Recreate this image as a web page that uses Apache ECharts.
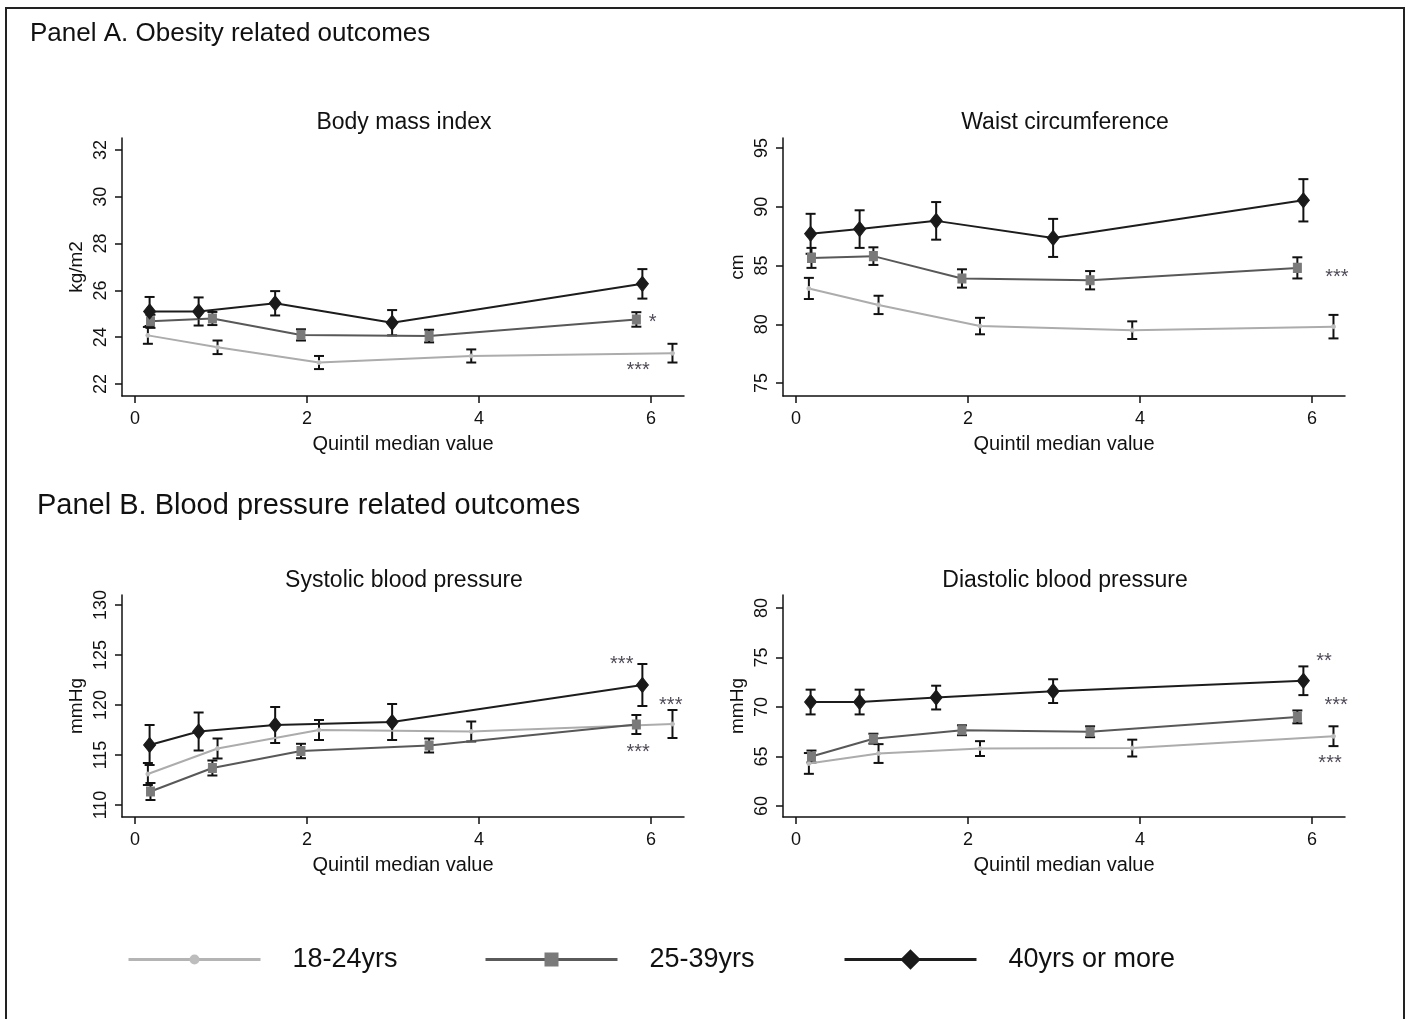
<!DOCTYPE html>
<html><head><meta charset="utf-8">
<script src="https://cdn.jsdelivr.net/npm/echarts@6/dist/echarts.min.js"></script>
<style>html,body{margin:0;padding:0;background:#fff}#c{width:1408px;height:1019px}</style>
</head><body><div id="c"></div><script>
// ---------- data ----------
const groups = ['18-24yrs', '25-39yrs', '40yrs or more'];
const x1824 = [0.15, 0.96, 2.14, 3.91, 6.25];
const x2539 = [0.18, 0.90, 1.93, 3.42, 5.83];
const x40   = [0.17, 0.74, 1.63, 2.99, 5.90];
const xTicks = [0, 2, 4, 6];

const panelTitles = ['Body mass index', 'Waist circumference', 'Systolic blood pressure', 'Diastolic blood pressure'];
const yUnits = ['kg/m2', 'cm', 'mmHg', 'mmHg'];
const xName = 'Quintil median value';

const bmiTicks = [22, 24, 26, 28, 30, 32];
const bmi1824 = [24.08, 23.57, 22.92, 23.20, 23.32];
const bmi1824Ci = [0.36, 0.29, 0.28, 0.28, 0.40];
const bmi2539 = [24.68, 24.80, 24.10, 24.05, 24.76];
const bmi2539Ci = [0.28, 0.28, 0.24, 0.27, 0.31];
const bmi40 = [25.10, 25.10, 25.45, 24.62, 26.28];
const bmi40Ci = [0.62, 0.60, 0.52, 0.54, 0.63];
const bmiStars = [[6.02, 24.82, '*'], [5.85, 22.77, '***']];

const waistTicks = [75, 80, 85, 90, 95];
const waist1824 = [83.05, 81.65, 79.85, 79.50, 79.80];
const waist1824Ci = [0.90, 0.78, 0.70, 0.75, 1.00];
const waist2539 = [85.65, 85.80, 83.90, 83.75, 84.80];
const waist2539Ci = [0.85, 0.75, 0.78, 0.78, 0.90];
const waist40 = [87.70, 88.10, 88.80, 87.35, 90.55];
const waist40Ci = [1.70, 1.60, 1.60, 1.62, 1.80];
const waistStars = [[6.29, 84.36, '***'], [6.60, 79.68, '***']];

const sbpTicks = [110, 115, 120, 125, 130];
const sbp1824 = [113.1, 115.65, 117.5, 117.35, 118.1];
const sbp1824Ci = [1.1, 1.0, 1.0, 1.0, 1.4];
const sbp2539 = [111.35, 113.7, 115.4, 115.95, 118.05];
const sbp2539Ci = [0.85, 0.75, 0.72, 0.70, 0.95];
const sbp40 = [116.0, 117.35, 118.0, 118.3, 122.0];
const sbp40Ci = [2.0, 1.9, 1.8, 1.8, 2.1];
const sbpStars = [[5.66, 124.5, '***'], [6.23, 120.4, '***'], [5.85, 115.7, '***']];

const dbpTicks = [60, 65, 70, 75, 80];
const dbp1824 = [64.3, 65.3, 65.8, 65.85, 67.05];
const dbp1824Ci = [1.05, 0.95, 0.75, 0.85, 1.0];
const dbp2539 = [65.0, 66.8, 67.65, 67.5, 69.0];
const dbp2539Ci = [0.6, 0.5, 0.5, 0.55, 0.65];
const dbp40 = [70.5, 70.5, 70.95, 71.6, 72.65];
const dbp40Ci = [1.25, 1.25, 1.2, 1.2, 1.45];
const dbpStars = [[6.14, 74.95, '**'], [6.28, 70.6, '***'], [6.21, 64.65, '***']];

// ---------- layout / style ----------
const FONT = '"Liberation Sans", Arial, sans-serif';
const INK = '#111';
const grids = [
  {left: 122, top: 138, width: 562, height: 258},
  {left: 783, top: 138, width: 562, height: 258},
  {left: 122, top: 595, width: 562, height: 222},
  {left: 783, top: 595, width: 562, height: 222}
];
const yRanges = [[21.49, 32.51], [73.9, 95.85], [108.8, 131.0], [58.89, 81.31]];
const xRange = [-0.151, 6.384];
const panels = [
  {ticks: bmiTicks, ys: [bmi1824, bmi2539, bmi40], cis: [bmi1824Ci, bmi2539Ci, bmi40Ci], stars: bmiStars},
  {ticks: waistTicks, ys: [waist1824, waist2539, waist40], cis: [waist1824Ci, waist2539Ci, waist40Ci], stars: waistStars},
  {ticks: sbpTicks, ys: [sbp1824, sbp2539, sbp40], cis: [sbp1824Ci, sbp2539Ci, sbp40Ci], stars: sbpStars},
  {ticks: dbpTicks, ys: [dbp1824, dbp2539, dbp40], cis: [dbp1824Ci, dbp2539Ci, dbp40Ci], stars: dbpStars}
];
const xsByGroup = [x1824, x2539, x40];
const groupStyle = [
  {line: '#acacac', width: 2, symbol: 'circle', size: 4, fill: '#bdbdbd', border: '#bdbdbd'},
  {line: '#585858', width: 2, symbol: 'rect', size: [8, 9], fill: '#7a7a7a', border: '#7a7a7a'},
  {line: '#1c1c1c', width: 2, symbol: 'diamond', size: [12, 15], fill: '#1a1a1a', border: '#1a1a1a'}
];

const xAxes = [], yAxes = [], series = [];
panels.forEach((p, i) => {
  xAxes.push({
    gridIndex: i, type: 'value', min: xRange[0], max: xRange[1],
    axisLine: {show: true, onZero: false, lineStyle: {color: INK, width: 1.5}},
    axisTick: {show: true, length: 7, customValues: xTicks, lineStyle: {color: INK, width: 1.5}},
    axisLabel: {customValues: xTicks, margin: 14, fontSize: 18, color: INK, fontFamily: FONT},
    splitLine: {show: false},
    name: xName, nameLocation: 'middle', nameGap: 38,
    nameTextStyle: {fontSize: 20, color: INK, fontFamily: FONT}
  });
  yAxes.push({
    gridIndex: i, type: 'value', min: yRanges[i][0], max: yRanges[i][1],
    axisLine: {show: true, onZero: false, lineStyle: {color: INK, width: 1.5}},
    axisTick: {show: true, length: 7, customValues: p.ticks, lineStyle: {color: INK, width: 1.5}},
    axisLabel: {customValues: p.ticks, rotate: 90, margin: 12, fontSize: 18, color: INK, fontFamily: FONT},
    splitLine: {show: false},
    name: yUnits[i], nameLocation: 'middle', nameGap: 36, nameRotate: 90,
    nameTextStyle: {fontSize: 19, color: INK, fontFamily: FONT}
  });
  for (let g = 0; g < 3; g++) {
    const xs = xsByGroup[g], ys = p.ys[g], ci = p.cis[g], st = groupStyle[g];
    series.push({
      type: 'custom', name: groups[g] + ' CI', xAxisIndex: i, yAxisIndex: i, z: 3, silent: true,
      data: xs.map((x, k) => [x, ys[k] - ci[k], ys[k] + ci[k]]),
      encode: {x: 0, y: [1, 2]},
      renderItem: (params, api) => {
        const lo = api.coord([api.value(0), api.value(1)]);
        const hi = api.coord([api.value(0), api.value(2)]);
        const w = 5, s = {stroke: '#111', lineWidth: 2};
        return {type: 'group', children: [
          {type: 'line', shape: {x1: lo[0], y1: lo[1], x2: hi[0], y2: hi[1]}, style: s},
          {type: 'line', shape: {x1: lo[0] - w, y1: lo[1], x2: lo[0] + w, y2: lo[1]}, style: s},
          {type: 'line', shape: {x1: hi[0] - w, y1: hi[1], x2: hi[0] + w, y2: hi[1]}, style: s}
        ]};
      }
    });
    series.push({
      type: 'line', name: groups[g], xAxisIndex: i, yAxisIndex: i, z: 4 + g,
      data: xs.map((x, k) => [x, ys[k]]),
      symbol: st.symbol, symbolSize: st.size, showSymbol: true,
      lineStyle: {color: st.line, width: st.width},
      itemStyle: {color: st.fill, borderColor: st.border, borderWidth: 1},
      emphasis: {disabled: true}
    });
  }
  series.push({
    type: 'scatter', name: 'sig' + i, xAxisIndex: i, yAxisIndex: i, z: 8,
    data: p.stars, symbolSize: 1, itemStyle: {color: 'rgba(0,0,0,0)'},
    label: {show: true, position: 'inside', formatter: q => q.data[2], fontSize: 20,
      color: '#1e1828', fontFamily: FONT, offset: [0, 4]}
  });
});

const legendPos = [127, 484, 843];
const legendH = [10, 15, 22];
const legendLine = ['#b4b4b4', '#5a5a5a', '#1e1e1e'];
const legends = groups.map((name, g) => ({
  data: [name], left: legendPos[g], top: 946, orient: 'horizontal', padding: 0,
  itemWidth: 132, itemHeight: legendH[g], selectedMode: false,
  lineStyle: {width: 3, color: legendLine[g]},
  textStyle: {fontSize: 27, color: INK, fontFamily: FONT, padding: [0, 0, 0, 27]}
}));

const graphics = [
  {type: 'rect', shape: {x: 6, y: 8, width: 1398, height: 1040}, style: {fill: 'none', stroke: '#222', lineWidth: 2}, silent: true},
  {type: 'text', x: 30, y: 34, style: {text: 'Panel A. Obesity related outcomes', font: '26px ' + FONT, fill: INK, textAlign: 'left', textVerticalAlign: 'middle'}},
  {type: 'text', x: 37, y: 506, style: {text: 'Panel B. Blood pressure related outcomes', font: '29px ' + FONT, fill: INK, textAlign: 'left', textVerticalAlign: 'middle'}}
];
const titlePos = [[404, 123], [1065, 123], [404, 581], [1065, 581]];
panelTitles.forEach((t, i) => graphics.push({
  type: 'text', x: titlePos[i][0], y: titlePos[i][1],
  style: {text: t, font: '23px ' + FONT, fill: INK, textAlign: 'center', textVerticalAlign: 'middle'}
}));

const chart = echarts.init(document.getElementById('c'));
chart.setOption({
  backgroundColor: '#fff', animation: false,
  grid: grids, xAxis: xAxes, yAxis: yAxes, series: series,
  legend: legends, graphic: graphics
});
</script></body></html>
